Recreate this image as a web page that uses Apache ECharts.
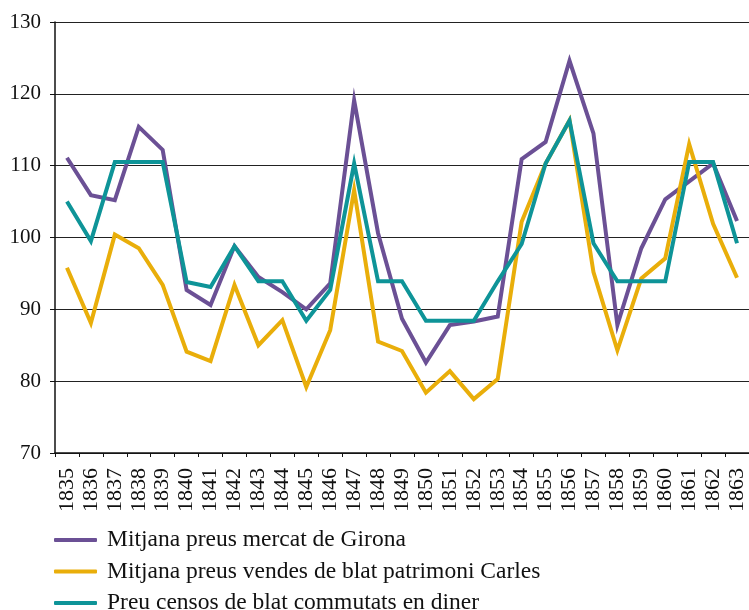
<!DOCTYPE html>
<html>
<head>
<meta charset="utf-8">
<script src="https://cdn.jsdelivr.net/npm/echarts@6/dist/echarts.min.js"></script>
<style>
  html, body { margin: 0; padding: 0; background: #fff; }
  #main { width: 749px; height: 610px; }
</style>
</head>
<body>
<div id="main"></div>
<script>
// anys
var years = ['1835','1836','1837','1838','1839','1840','1841','1842','1843','1844',
  '1845','1846','1847','1848','1849','1850','1851','1852','1853','1854',
  '1855','1856','1857','1858','1859','1860','1861','1862','1863'];

// Mitjana preus mercat de Girona
var girona = [111.1, 105.9, 105.2, 115.4, 112.2, 92.7, 90.6, 98.8, 94.5, 92.4,
  90.0, 93.6, 119.1, 100.6, 88.7, 82.6, 87.8, 88.3, 89.0, 110.9,
  113.3, 124.6, 114.5, 87.8, 98.5, 105.3, 107.8, 110.3, 102.3];

// Mitjana preus vendes de blat patrimoni Carles
var carles = [95.8, 88.1, 100.4, 98.5, 93.4, 84.1, 82.8, 93.4, 85.0, 88.5,
  79.2, 87.1, 106.6, 85.5, 84.2, 78.4, 81.4, 77.5, 80.3, 102.2,
  110.3, 116.3, 95.2, 84.3, 94.3, 97.1, 113.0, 101.9, 94.4];

// Preu censos de blat commutats en diner
var censos = [105.0, 99.5, 110.5, 110.5, 110.5, 93.8, 93.1, 98.8, 93.9, 93.9,
  88.4, 92.7, 110.3, 93.9, 93.9, 88.4, 88.4, 88.4, 93.9, 99.1,
  110.3, 116.3, 99.2, 93.9, 93.9, 93.9, 110.5, 110.5, 99.2];

var names = ['Mitjana preus mercat de Girona',
  'Mitjana preus vendes de blat patrimoni Carles',
  'Preu censos de blat commutats en diner'];
var colors = ['#6b5095', '#e9ae0a', '#0e9498'];

var font = 'Liberation Serif';

var chartDom = document.getElementById('main');
var myChart = echarts.init(chartDom, null, { renderer: 'canvas' });
var option;

function serie(i, data) {
  return {
    name: names[i],
    type: 'line',
    data: data,
    symbol: 'none',
    lineStyle: { width: 4, color: colors[i], join: 'miter' },
    itemStyle: { color: colors[i] }
  };
}

option = {
  animation: false,
  color: colors,
  textStyle: { fontFamily: font },
  grid: { left: 55, top: 22, width: 699, bottom: 157, containLabel: false },
  legend: {
    orient: 'vertical',
    left: 54,
    top: 528,
    height: 120,
    padding: 0,
    itemWidth: 43,
    itemHeight: 4,
    itemGap: 7.5,
    icon: 'roundRect',
    textStyle: { fontFamily: font, fontSize: 23.5, lineHeight: 24, color: '#111', padding: [0, 0, 0, 5] },
    data: names
  },
  xAxis: {
    type: 'category',
    data: years,
    boundaryGap: true,
    axisLine: { lineStyle: { color: '#111', width: 1.5 } },
    axisTick: { show: true, length: 4, lineStyle: { color: '#111' } },
    axisLabel: {
      rotate: 90,
      margin: 15,
      fontFamily: font,
      fontSize: 22,
      color: '#111',
      interval: 0
    }
  },
  yAxis: {
    type: 'value',
    min: 70,
    max: 130,
    interval: 10,
    axisLine: { show: true, lineStyle: { color: '#111', width: 1.5 } },
    axisTick: { show: true, length: 5, lineStyle: { color: '#111' } },
    splitLine: { show: true, lineStyle: { color: '#222', width: 1 } },
    axisLabel: {
      margin: 14,
      fontFamily: font,
      fontSize: 21,
      color: '#111'
    }
  },
  series: [serie(0, girona), serie(1, carles), serie(2, censos)]
};

option && myChart.setOption(option, true);
</script>
</body>
</html>
